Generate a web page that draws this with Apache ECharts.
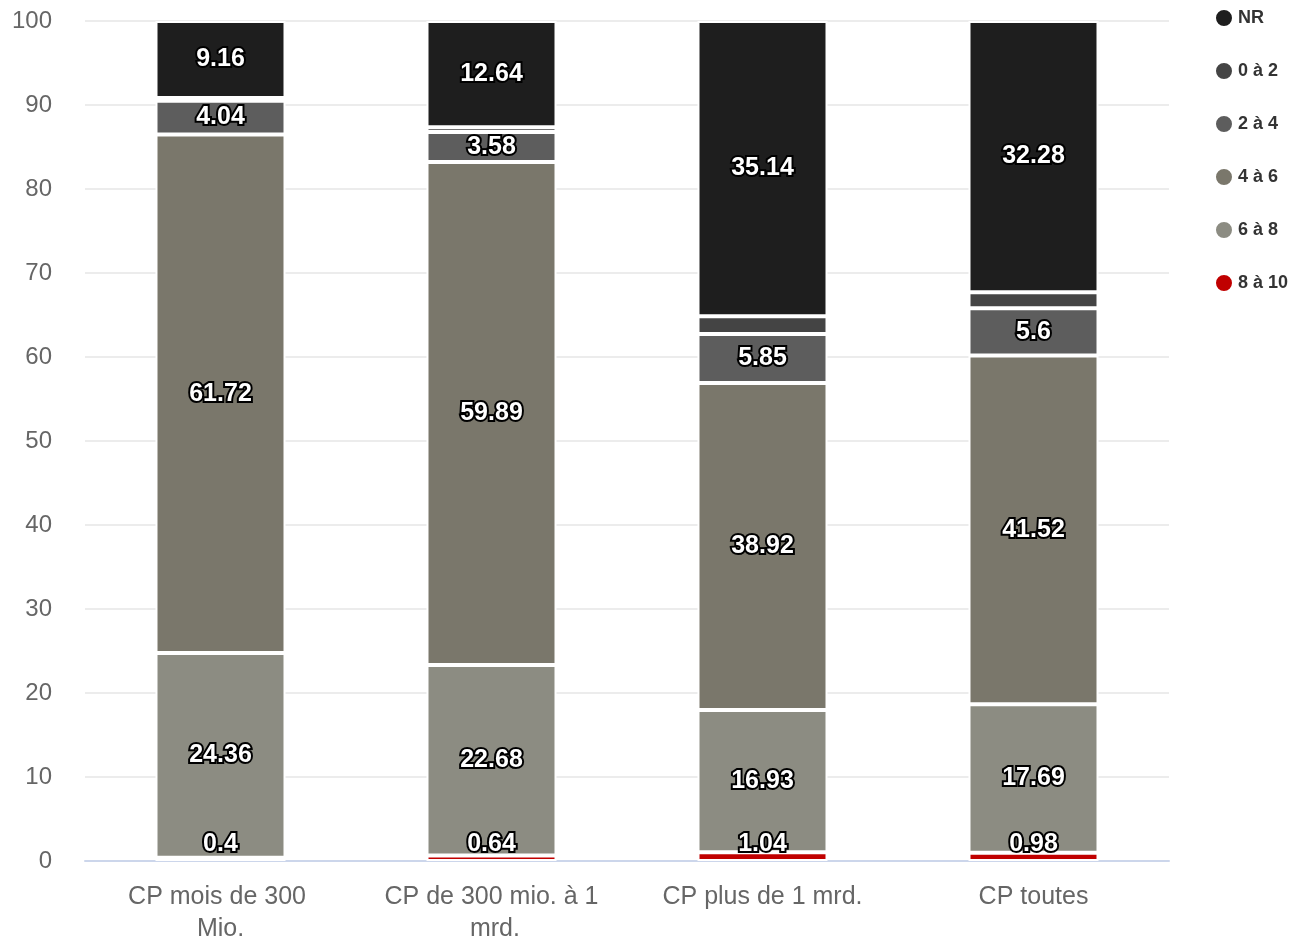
<!DOCTYPE html>
<html><head><meta charset="utf-8">
<script src="https://cdn.jsdelivr.net/npm/echarts@6/dist/echarts.min.js"></script>
<style>html,body{margin:0;padding:0;background:#fff}#c{width:1291px;height:941px}</style>
</head><body><div id="c"></div>
<script>
const categories = ['CP mois de 300 Mio.', 'CP de 300 mio. à 1 mrd.', 'CP plus de 1 mrd.', 'CP toutes'];
const s8a10 = [0.4, 0.64, 1.04, 0.98];
const s6a8 = [24.36, 22.68, 16.93, 17.69];
const s4a6 = [61.72, 59.89, 38.92, 41.52];
const s2a4 = [4.04, 3.58, 5.85, 5.6];
const s0a2 = [0.32, 0.57, 2.12, 1.93];
const sNR = [9.16, 12.64, 35.14, 32.28];
const yTicks = [0, 10, 20, 30, 40, 50, 60, 70, 80, 90, 100];

const FF = 'Liberation Sans, Arial, sans-serif';
const chart = echarts.init(document.getElementById('c'));
const lbl = (show, pos) => ({
  show: show, position: pos || 'inside', color: '#fff', fontWeight: 'bold', fontSize: 25,
  fontFamily: FF, textBorderColor: '#000', textBorderWidth: 4, distance: 4
});
const mk = (name, data, color, show, pos) => ({
  name, type: 'bar', stack: 'a', data, barWidth: 130,
  itemStyle: { color, borderColor: '#fff', borderWidth: 2 },
  label: lbl(show, pos), emphasis: { disabled: true }
});
chart.setOption({
  animation: false,
  grid: { left: 85, right: 122, top: 21, bottom: 80, outerBoundsMode: 'none', containLabel: false },
  legend: {
    orient: 'vertical', left: 1209, top: 3, icon: 'circle', itemWidth: 18, itemHeight: 18, itemGap: 33,
    data: ['NR', '0 à 2', '2 à 4', '4 à 6', '6 à 8', '8 à 10'],
    textStyle: { fontSize: 18, fontWeight: 'bold', color: '#333', fontFamily: FF }
  },
  xAxis: {
    type: 'category', data: categories,
    axisLine: { lineStyle: { color: '#ccd6eb', width: 2 } }, axisTick: { show: false },
    axisLabel: { fontSize: 25, color: '#666', margin: 20, width: 228, overflow: 'break', lineHeight: 32, interval: 0,
      fontFamily: FF }
  },
  yAxis: {
    type: 'value', min: 0, max: 100, interval: 10,
    axisLabel: { fontSize: 24, color: '#666', margin: 33, fontFamily: FF,
      formatter: v => yTicks.includes(v) ? String(v) : '' },
    splitLine: { lineStyle: { color: '#e6e6e6', width: 1.5 } }
  },
  series: [
    mk('8 à 10', s8a10, '#c00000', true, 'insideBottom'),
    mk('6 à 8', s6a8, '#8c8c82', true),
    mk('4 à 6', s4a6, '#7a776b', true),
    mk('2 à 4', s2a4, '#5d5d5d', true),
    mk('0 à 2', s0a2, '#444444', false),
    mk('NR', sNR, '#1e1e1e', true)
  ]
});
</script></body></html>
